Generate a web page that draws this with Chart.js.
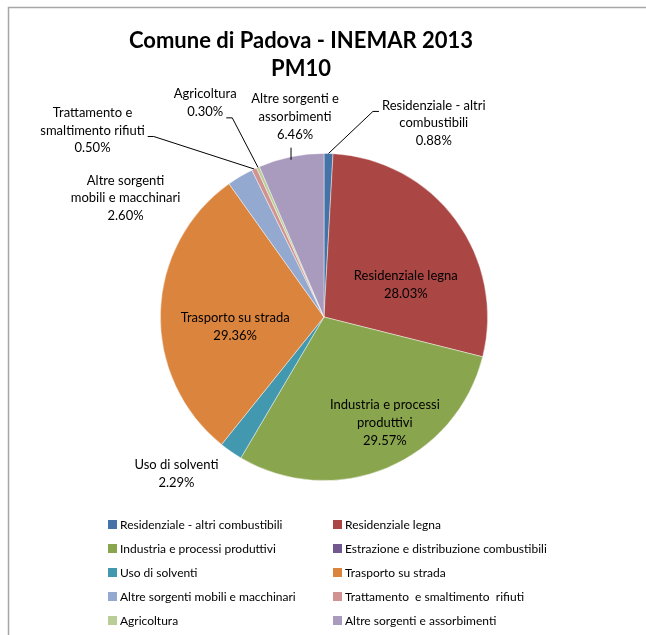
<!DOCTYPE html>
<html lang="it">
<head>
<meta charset="UTF-8">
<title>Comune di Padova - INEMAR 2013 PM10</title>
<script src="https://cdn.jsdelivr.net/npm/chart.js"></script>
<style>
    body { margin: 0; background: #fff; }
    canvas { display: block; }
</style>
</head>
<body>
<canvas id="pm10Chart" width="646" height="635"></canvas>
<script>
// --- data ---
const categories = [
    'Residenziale - altri combustibili',
    'Residenziale legna',
    'Industria e processi produttivi',
    'Estrazione e distribuzione combustibili',
    'Uso di solventi',
    'Trasporto su strada',
    'Altre sorgenti mobili e macchinari',
    'Trattamento  e smaltimento  rifiuti',
    'Agricoltura',
    'Altre sorgenti e assorbimenti'
];
const shares = [0.88, 28.03, 29.57, 0.00, 2.29, 29.36, 2.60, 0.50, 0.30, 6.46];
const titleLines = ['Comune di Padova - INEMAR 2013', 'PM10'];
// data label text as it is wrapped on the chart (percentage is appended)
const labelLines = [
    ['Residenziale - altri', 'combustibili'],
    ['Residenziale legna'],
    ['Industria e processi', 'produttivi'],
    null,
    ['Uso di solventi'],
    ['Trasporto su strada'],
    ['Altre sorgenti', 'mobili e macchinari'],
    ['Trattamento e', 'smaltimento rifiuti'],
    ['Agricoltura'],
    ['Altre sorgenti e', 'assorbimenti']
];

const sliceColors = ['#4572A7', '#AA4643', '#89A54E', '#71588F', '#4198AF',
                     '#DB843D', '#93A9CF', '#D19392', '#B9CD96', '#A99BBD'];

// label block centre, in units of the pie radius from the pie centre
const labelPlace = [
    { dx: 0.671, dy: -1.185, leader: 'left', line: 0 },
    { dx: 0.50, dy: -0.198 },
    { dx: 0.372, dy: 0.646 },
    null,
    { dx: -0.902, dy: 0.960 },
    { dx: -0.543, dy: 0.061 },
    { dx: -1.213, dy: -0.726 },
    { dx: -1.415, dy: -1.140, leader: 'right', line: 1 },
    { dx: -0.726, dy: -1.308, leader: 'right', line: 1 },
    { dx: -0.177, dy: -1.223, leader: 'below' }
];

const FONT = 'Lato, "Open Sans", sans-serif';
const LINE_H = 17.7;

const framePlugin = {
    id: 'frame',
    beforeDraw(chart) {
        const ctx = chart.ctx;
        ctx.save();
        ctx.strokeStyle = '#a6a6a6';
        ctx.lineWidth = 1.5;
        ctx.beginPath();
        ctx.moveTo(8.5, chart.height);
        ctx.lineTo(8.5, 7.5);
        ctx.lineTo(chart.width, 7.5);
        ctx.stroke();

        ctx.fillStyle = '#000';
        ctx.font = 'bold 22px ' + FONT;
        ctx.textAlign = 'center';
        ctx.textBaseline = 'middle';
        titleLines.forEach((t, i) => ctx.fillText(t, 301, 41 + i * 28));
        ctx.restore();
    }
};

const labelPlugin = {
    id: 'pieLabels',
    afterDatasetsDraw(chart) {
        const ctx = chart.ctx;
        const arcs = chart.getDatasetMeta(0).data;
        ctx.save();
        ctx.font = '13px ' + FONT;
        ctx.fillStyle = '#000';
        ctx.strokeStyle = '#000';
        ctx.lineWidth = 1;
        ctx.textAlign = 'center';
        ctx.textBaseline = 'middle';
        arcs.forEach((arc, i) => {
            const place = labelPlace[i];
            if (!place || !labelLines[i]) return;
            const p = arc.getProps(['x', 'y', 'outerRadius', 'startAngle', 'endAngle'], true);
            const lines = labelLines[i].concat(shares[i].toFixed(2) + '%');
            const bx = p.x + place.dx * p.outerRadius;
            const by = p.y + place.dy * p.outerRadius;
            const top = by - (lines.length - 1) * LINE_H / 2;
            lines.forEach((t, k) => ctx.fillText(t, bx, top + k * LINE_H));

            if (!place.leader) return;
            const mid = (p.startAngle + p.endAngle) / 2;
            const ex = p.x + Math.cos(mid) * p.outerRadius;
            const ey = p.y + Math.sin(mid) * p.outerRadius;
            ctx.beginPath();
            if (place.leader === 'below') {
                ctx.moveTo(ex, ey + 3);
                ctx.lineTo(ex, top + (lines.length - 1) * LINE_H + 13);
            } else {
                const w = ctx.measureText(lines[place.line]).width;
                const ay = top + place.line * LINE_H + 6;
                const side = place.leader === 'left' ? -1 : 1;
                const ax = bx + side * (w / 2 + 3);
                ctx.moveTo(ex, ey);
                ctx.lineTo(ax + side * 6, ay);
                ctx.lineTo(ax, ay);
            }
            ctx.stroke();
        });
        ctx.restore();
    }
};

const legendPlugin = {
    id: 'gridLegend',
    afterDraw(chart) {
        const ctx = chart.ctx;
        const colX = [108, 333];
        ctx.save();
        ctx.font = '12px ' + FONT;
        ctx.textAlign = 'left';
        ctx.textBaseline = 'middle';
        chart.data.labels.forEach((label, i) => {
            const x = colX[i % 2];
            const y = 524.5 + Math.floor(i / 2) * 24;
            ctx.fillStyle = chart.data.datasets[0].backgroundColor[i];
            ctx.fillRect(x, y - 4.5, 9, 9);
            ctx.fillStyle = '#000';
            ctx.fillText(label, x + 12, y + 0.5);
        });
        ctx.restore();
    }
};

new Chart(document.getElementById('pm10Chart'), {
    type: 'pie',
    data: {
        labels: categories,
        datasets: [{
            data: shares,
            backgroundColor: sliceColors,
            borderColor: 'rgba(255,255,255,0.55)',
            borderWidth: 0.8
        }]
    },
    options: {
        responsive: false,
        animation: false,
        layout: { padding: { left: 160, right: 158, top: 153, bottom: 154 } },
        plugins: {
            legend: { display: false },
            title: { display: false },
            tooltip: { enabled: true }
        }
    },
    plugins: [framePlugin, labelPlugin, legendPlugin]
});
</script>
</body>
</html>
